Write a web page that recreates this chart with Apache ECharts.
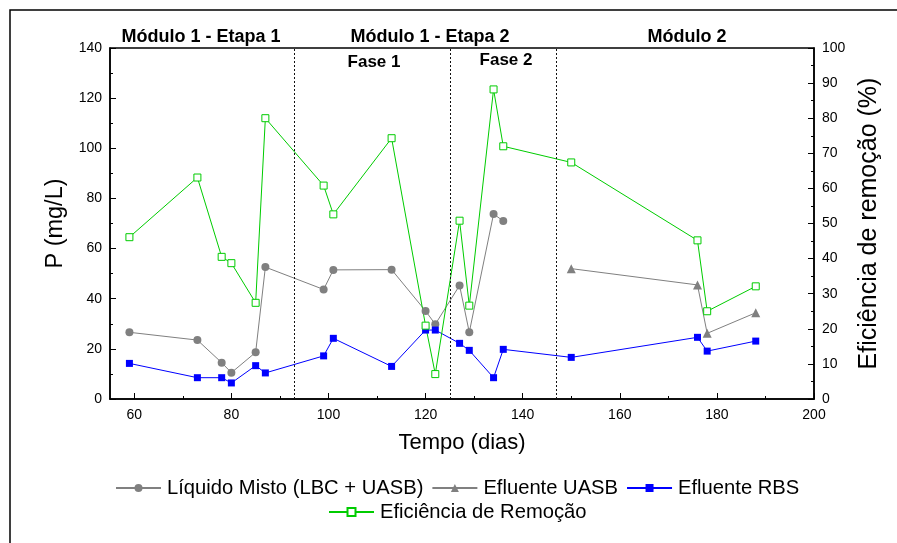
<!DOCTYPE html>
<html>
<head>
<meta charset="utf-8">
<script src="https://cdn.jsdelivr.net/npm/echarts@6/dist/echarts.min.js"></script>
<style>
  html, body { margin: 0; padding: 0; background: #fff; }
  #chart { width: 897px; height: 543px; }
</style>
</head>
<body>
<div id="chart"></div>
<script>
// Tempo (dias) e fósforo total (mg/L)
const diasLiquidoMisto = [59, 73, 78, 80, 85, 87, 99, 101, 113, 120, 122, 127, 129, 134, 136];
const liquidoMisto = [26.6, 23.5, 14.5, 10.5, 18.6, 52.6, 43.7, 51.5, 51.6, 35.1, 29.8, 45.3, 26.6, 73.8, 71.0];

const diasUASB = [150, 176, 178, 188];
const efluenteUASB = [52.0, 45.5, 26.2, 34.4];

const diasRBS = [59, 73, 78, 80, 85, 87, 99, 101, 113, 120, 122, 127, 129, 134, 136, 150, 176, 178, 188];
const efluenteRBS = [14.2, 8.5, 8.5, 6.4, 13.3, 10.4, 17.2, 24.2, 13.0, 27.5, 27.5, 22.2, 19.4, 8.5, 19.8, 16.6, 24.6, 19.1, 23.1];

// Eficiência de remoção (%)
const eficiencia = [46.1, 63.1, 40.5, 38.7, 27.4, 80.0, 60.8, 52.6, 74.3, 20.9, 7.1, 50.8, 26.6, 88.2, 72.0, 67.4, 45.2, 25.0, 32.1];

// Divisões entre etapas / fases (dias)
const divisoes = [93, 125, 147];

// Marcas do eixo do tempo
const ticksTempo = [60, 80, 100, 120, 140, 160, 180, 200];
const ticksTempoMenores = [70, 90, 110, 130, 150, 170, 190];

const FONT = '"Liberation Sans", Arial, Helvetica, sans-serif';
const CINZA = '#808080';
const AZUL = '#0000ff';
const VERDE = '#00cc00';

const pares = (xs, ys) => xs.map((x, i) => [x, ys[i]]);

const chart = echarts.init(document.getElementById('chart'), null, { renderer: 'canvas' });

const eixoTexto = { color: '#000', fontFamily: FONT, fontSize: 14 };
const legendaTexto = { color: '#000', fontFamily: FONT, fontSize: 20.2, padding: [0, 0, 0, 1] };

const option = {
  backgroundColor: '#fff',
  animation: false,
  grid: {
    left: 110, right: 83, top: 48, bottom: 144,
    show: true, borderColor: '#000', borderWidth: 1.5, backgroundColor: 'transparent'
  },
  xAxis: [
    {
      type: 'value', min: 55, max: 200,
      name: 'Tempo (dias)', nameLocation: 'middle', nameGap: 33,
      nameTextStyle: { color: '#000', fontFamily: FONT, fontSize: 22 },
      axisLine: { show: true, onZero: false, lineStyle: { color: '#000', width: 1.5 } },
      axisTick: { show: true, inside: true, length: 6, customValues: ticksTempo, lineStyle: { color: '#000', width: 1 } },
      axisLabel: { show: true, margin: 9, customValues: ticksTempo, ...eixoTexto },
      splitLine: { show: false }
    },
    {
      // marcas menores do eixo do tempo
      type: 'value', min: 55, max: 200, position: 'bottom',
      axisLine: { show: false },
      axisTick: { show: true, inside: true, length: 3, customValues: ticksTempoMenores, lineStyle: { color: '#000', width: 1 } },
      axisLabel: { show: false },
      splitLine: { show: false }
    }
  ],
  yAxis: [
    {
      type: 'value', min: 0, max: 140, interval: 20, position: 'left',
      name: 'P (mg/L)', nameLocation: 'middle', nameGap: 40,
      nameTextStyle: { color: '#000', fontFamily: FONT, fontSize: 23.5 },
      axisLine: { show: true, lineStyle: { color: '#000', width: 1.5 } },
      axisTick: { show: true, inside: true, length: 6, lineStyle: { color: '#000', width: 1 } },
      minorTick: { show: true, splitNumber: 2, length: 3, lineStyle: { color: '#000', width: 1 } },
      axisLabel: { margin: 8, ...eixoTexto },
      splitLine: { show: false }
    },
    {
      type: 'value', min: 0, max: 100, interval: 10, position: 'right',
      name: 'Eficiência de remoção (%)', nameLocation: 'middle', nameGap: 41, nameRotate: 90,
      nameTextStyle: { color: '#000', fontFamily: FONT, fontSize: 25 },
      axisLine: { show: true, lineStyle: { color: '#000', width: 1.5 } },
      axisTick: { show: true, inside: true, length: 6, lineStyle: { color: '#000', width: 1 } },
      minorTick: { show: true, splitNumber: 2, length: 3, lineStyle: { color: '#000', width: 1 } },
      axisLabel: { margin: 8, ...eixoTexto },
      splitLine: { show: false }
    }
  ],
  legend: [
    {
      data: ['Líquido Misto (LBC + UASB)', 'Efluente UASB', 'Efluente RBS'],
      left: 115, top: 478, padding: 0, itemWidth: 45, itemHeight: 10, itemGap: 8,
      textStyle: legendaTexto,
      selectedMode: false
    },
    {
      data: ['Eficiência de Remoção'],
      left: 328, top: 502, padding: 0, itemWidth: 45, itemHeight: 10,
      textStyle: legendaTexto,
      selectedMode: false
    }
  ],
  series: [
    {
      name: 'Líquido Misto (LBC + UASB)', type: 'line', xAxisIndex: 0, yAxisIndex: 0,
      data: pares(diasLiquidoMisto, liquidoMisto),
      symbol: 'circle', symbolSize: 8,
      lineStyle: { color: CINZA, width: 1 },
      itemStyle: { color: CINZA },
      markLine: {
        silent: true, symbol: 'none', label: { show: false },
        lineStyle: { color: '#111', type: [2, 2], width: 1 },
        data: divisoes.map(d => ({ xAxis: d }))
      }
    },
    {
      name: 'Efluente UASB', type: 'line', xAxisIndex: 0, yAxisIndex: 0,
      data: pares(diasUASB, efluenteUASB),
      symbol: 'triangle', symbolSize: 9,
      lineStyle: { color: CINZA, width: 1 },
      itemStyle: { color: CINZA }
    },
    {
      name: 'Efluente RBS', type: 'line', xAxisIndex: 0, yAxisIndex: 0,
      data: pares(diasRBS, efluenteRBS),
      symbol: 'rect', symbolSize: 7,
      lineStyle: { color: AZUL, width: 1 },
      itemStyle: { color: AZUL }
    },
    {
      name: 'Eficiência de Remoção', type: 'line', xAxisIndex: 0, yAxisIndex: 1,
      data: pares(diasRBS, eficiencia),
      symbol: 'rect', symbolSize: 7,
      lineStyle: { color: VERDE, width: 1 },
      itemStyle: { color: '#fff', borderColor: VERDE, borderWidth: 1 }
    }
  ],
  graphic: [
    {
      type: 'rect', silent: true, z: 100,
      shape: { x: 10, y: 10, width: 950, height: 600 },
      style: { fill: 'none', stroke: '#000', lineWidth: 1.5 }
    },
    {
      type: 'text', silent: true, x: 201, y: 37,
      style: { text: 'Módulo 1 - Etapa 1', fontFamily: FONT, fontWeight: 'bold', fontSize: 18, fill: '#000', align: 'center', verticalAlign: 'middle' }
    },
    {
      type: 'text', silent: true, x: 430, y: 37,
      style: { text: 'Módulo 1 - Etapa 2', fontFamily: FONT, fontWeight: 'bold', fontSize: 18, fill: '#000', align: 'center', verticalAlign: 'middle' }
    },
    {
      type: 'text', silent: true, x: 687, y: 37,
      style: { text: 'Módulo 2', fontFamily: FONT, fontWeight: 'bold', fontSize: 18, fill: '#000', align: 'center', verticalAlign: 'middle' }
    },
    {
      type: 'text', silent: true, x: 374, y: 62,
      style: { text: 'Fase 1', fontFamily: FONT, fontWeight: 'bold', fontSize: 17, fill: '#000', align: 'center', verticalAlign: 'middle' }
    },
    {
      type: 'text', silent: true, x: 506, y: 60,
      style: { text: 'Fase 2', fontFamily: FONT, fontWeight: 'bold', fontSize: 17, fill: '#000', align: 'center', verticalAlign: 'middle' }
    }
  ]
};

chart.setOption(option);
</script>
</body>
</html>
